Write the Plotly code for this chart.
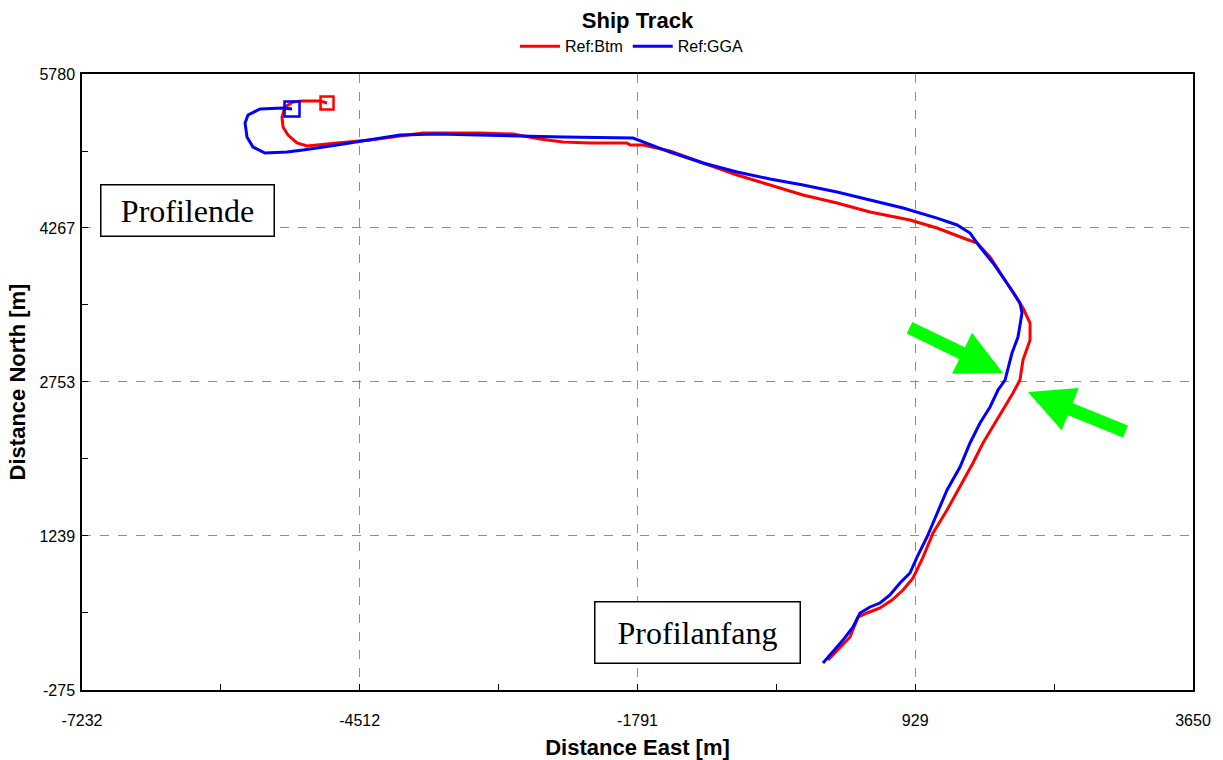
import plotly.graph_objects as go

# ---- data (metres) ----
btm_east = [75, 173, 291, 369, 457, 584, 702, 810, 908, 1006, 1104, 1241, 1368, 1495, 1593, 1711, 1809,
            1887, 1955, 1985, 2054, 2054, 1985, 1887, 1789, 1662, 1535, 1398, 1143, 878, 486, 163, -170,
            -493, -816, -1149, -1473, -1737, -1864, -1894, -2256, -2521, -2746, -3010, -3334, -3892, -4117,
            -4411, -4734, -5028, -5126, -5214, -5263, -5273, -5244, -5165, -5077, -4901, -4832]
btm_north = [20, 118, 246, 442, 482, 531, 609, 708, 826, 1032, 1268, 1494, 1720, 1956, 2153, 2349, 2507,
             2644, 2772, 2969, 3165, 3332, 3480, 3627, 3785, 3981, 4119, 4168, 4266, 4345, 4423, 4512, 4591,
             4689, 4787, 4905, 5023, 5082, 5082, 5102, 5102, 5112, 5141, 5190, 5200, 5200, 5171,
             5131, 5102, 5072, 5102, 5180, 5259, 5357, 5456, 5505, 5515, 5515, 5495]

gga_east = [26, 124, 222, 320, 389, 486, 584, 682, 780, 878, 947, 1045, 1143, 1241, 1368, 1466, 1564, 1662,
            1740, 1809, 1877, 1936, 1975, 1955, 1887, 1809, 1691, 1564, 1466, 1339, 1143, 810, 486, 163,
            -170, -493, -816, -1149, -1473, -1737, -1835, -2521, -3010, -3755, -4117, -4411, -4734, -5067,
            -5224, -5440, -5557, -5616, -5635, -5606, -5488, -5263, -5175]
gga_north = [-10, 98, 216, 344, 482, 541, 580, 659, 777, 875, 1032, 1229, 1465, 1691, 1917, 2153, 2349, 2507,
             2674, 2772, 3037, 3195, 3431, 3529, 3637, 3755, 3922, 4079, 4217, 4296, 4364, 4463, 4541, 4620,
             4689, 4748, 4817, 4905, 5013, 5112, 5151, 5161, 5171, 5190, 5180, 5131, 5082, 5033,
             5013, 5003, 5062, 5161, 5298, 5377, 5436, 5446, 5436]

series_names = ["Ref:Btm", "Ref:GGA"]
series_colors = ["#FF0000", "#0000FF"]

x_ticks = [-7232, -4512, -1791, 929, 3650]
y_ticks = [-275, 1239, 2753, 4267, 5780]
x_minor = [-5872, -3152, -431, 2290]
y_minor = [482, 1996, 3510, 5023]

# arrow tips (metres) and tail offsets (px)
arrow_tips = [(1789, 2841), (2034, 2654)]
arrow_tails = [(-95, -46), (99, 40)]

fig = go.Figure()
for name, col, xs, ys in [(series_names[0], series_colors[0], btm_east, btm_north),
                          (series_names[1], series_colors[1], gga_east, gga_north)]:
    fig.add_trace(go.Scatter(x=xs, y=ys, mode="lines", name=name,
                             line=dict(color=col, width=3)))
for col, xs, ys, sz in [(series_colors[0], btm_east, btm_north, 13),
                        (series_colors[1], gga_east, gga_north, 15)]:
    fig.add_trace(go.Scatter(x=[xs[-1]], y=[ys[-1]], mode="markers", showlegend=False,
                             marker=dict(symbol="square-open", size=sz, color=col,
                                         line=dict(color=col, width=2.5))))

axis_common = dict(showline=True, linecolor="black", linewidth=1.5, mirror=True,
                   ticks="inside", ticklen=6, tickcolor="black", automargin=False,
                   showgrid=True, gridcolor="#8c8c8c", griddash="dash", gridwidth=1,
                   zeroline=False, tickfont=dict(family="Liberation Sans", size=16, color="black"))

fig.update_xaxes(range=[-7232, 3650], tickmode="array", tickvals=x_ticks,
                 ticktext=[str(v) for v in x_ticks],
                 minor=dict(tickvals=x_minor, ticks="inside", ticklen=6, tickcolor="black", showgrid=False),
                 ticklabelstandoff=15,
                 title=dict(text="<b>Distance East [m]</b>", standoff=14,
                            font=dict(family="Liberation Sans", size=22, color="black")),
                 **axis_common)
fig.update_yaxes(range=[-275, 5780], tickmode="array", tickvals=y_ticks,
                 ticktext=[str(v) for v in y_ticks],
                 minor=dict(tickvals=y_minor, ticks="inside", ticklen=6, tickcolor="black", showgrid=False),
                 ticklabelstandoff=2,
                 title=dict(text="<b>Distance North [m]</b>", standoff=8,
                            font=dict(family="Liberation Sans", size=22, color="black")),
                 **axis_common)

annotations = []
for (tx, ty), (ax, ay) in zip(arrow_tips, arrow_tails):
    annotations.append(dict(x=tx, y=ty, xref="x", yref="y", ax=ax, ay=ay, text="",
                            showarrow=True, arrowhead=2, arrowsize=0.7, arrowwidth=13,
                            arrowcolor="#00FF00"))
annotations.append(dict(x=0.0954, y=0.778, xref="paper", yref="paper", text="Profilende",
                        xanchor="center", yanchor="middle",
                        showarrow=False, font=dict(family="Liberation Serif", size=32, color="black"),
                        width=170, height=48, borderpad=1, borderwidth=1.5, bordercolor="black",
                        bgcolor="white"))
annotations.append(dict(x=0.5536, y=0.094, xref="paper", yref="paper", text="Profilanfang",
                        xanchor="center", yanchor="middle",
                        showarrow=False, font=dict(family="Liberation Serif", size=32, color="black"),
                        width=202, height=58, borderpad=1, borderwidth=1.5, bordercolor="black",
                        bgcolor="white"))

fig.update_layout(
    width=1223, height=760,
    margin=dict(l=82, r=30, t=74, b=70),
    paper_bgcolor="white", plot_bgcolor="white",
    title=dict(text="<b>Ship Track</b>", x=0.5, xref="paper", y=1 - 20 / 760, yref="container",
               xanchor="center", yanchor="middle",
               font=dict(family="Liberation Sans", size=22, color="black")),
    legend=dict(orientation="h", x=0.495, y=1.045, xanchor="center", yanchor="middle",
                font=dict(family="Liberation Sans", size=16, color="black"),
                bgcolor="rgba(0,0,0,0)", itemwidth=40, tracegroupgap=0),
    annotations=annotations,
    showlegend=True,
)

fig.write_html("out.html")
